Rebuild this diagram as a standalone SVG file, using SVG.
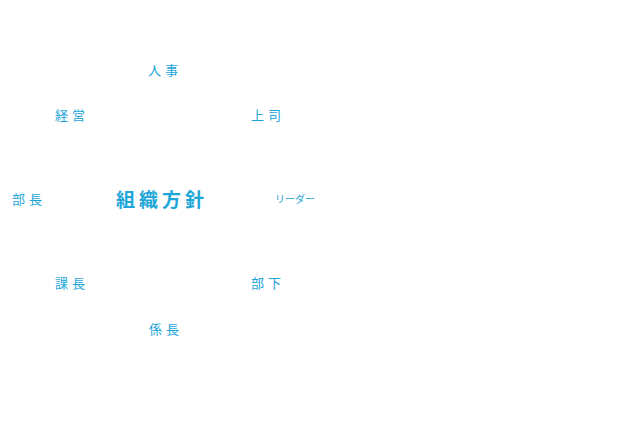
<svg xmlns="http://www.w3.org/2000/svg" width="621" height="431" viewBox="0 0 621 431">
<style>
text{font-family:"Noto Sans CJK JP",sans-serif;fill:#1ea6d8;text-anchor:middle;dominant-baseline:central}
.s{font-size:13px;letter-spacing:4px}
.c{font-size:19px;font-weight:bold;letter-spacing:4px}
.r{font-size:10px;letter-spacing:0px}
</style>
<rect width="621" height="431" fill="#fff"/>
<g id="connectors"></g>
<g id="center"><text class="c" x="162" y="198">組織方針</text></g>
<g id="n1"><text class="s" x="165" y="69">人事</text></g>
<g id="n2"><text class="s" x="72" y="114">経営</text></g>
<g id="n3"><text class="s" x="268" y="114">上司</text></g>
<g id="n4"><text class="s" x="29" y="198">部長</text></g>
<g id="n5"><text class="r" x="295" y="198">リーダー</text></g>
<g id="n6"><text class="s" x="72" y="282">課長</text></g>
<g id="n7"><text class="s" x="268" y="282">部下</text></g>
<g id="n8"><text class="s" x="166" y="328">係長</text></g>
</svg>
